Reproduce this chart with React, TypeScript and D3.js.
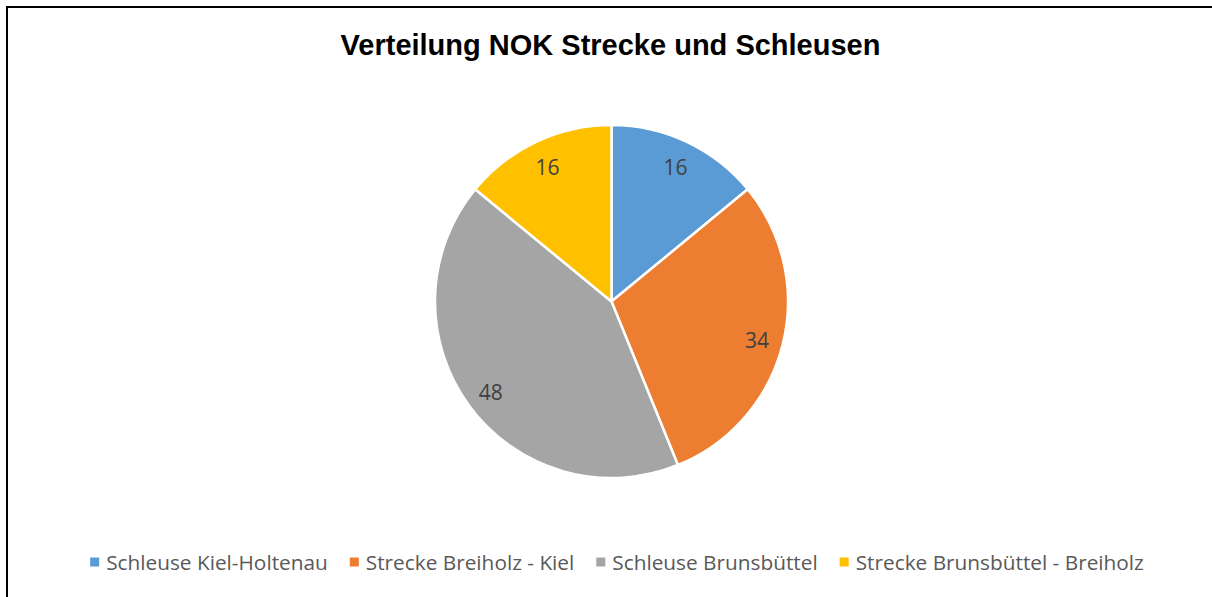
import React, { useMemo } from "react";
import * as d3 from "d3";

const categories = [
  "Schleuse Kiel-Holtenau",
  "Strecke Breiholz - Kiel",
  "Schleuse Brunsbüttel",
  "Strecke Brunsbüttel - Breiholz",
];
const values = [16, 34, 48, 16];
const colors = ["#5B9BD5", "#ED7D31", "#A5A5A5", "#FFC000"];
const title = "Verteilung NOK Strecke und Schleusen";

const W = 1212;
const H = 597;
const cx = 611.5;
const cy = 301.5;
const R = 176.5;
const labelR = 150;
const legendFontSize = 20.8;
const legendFont = `${legendFontSize}px 'Open Sans'`;
const legendY = 562;
const legendCenter = 617;

function measure(text: string, font: string): number {
  const c = document.createElement("canvas");
  const ctx = c.getContext("2d")!;
  ctx.font = font;
  return ctx.measureText(text).width;
}

export default function App() {
  const arcs = useMemo(
    () => d3.pie<number>().sort(null).value((d) => d)(values),
    []
  );
  const arcGen = d3.arc<d3.PieArcDatum<number>>().innerRadius(0).outerRadius(R);
  const labelArc = d3
    .arc<d3.PieArcDatum<number>>()
    .innerRadius(labelR)
    .outerRadius(labelR);

  const legend = useMemo(() => {
    const marker = 9;
    const gapMT = 7;
    const gapItems = 22;
    const widths = categories.map((c) => measure(c, legendFont));
    const itemW = widths.map((w) => marker + gapMT + w);
    const total = d3.sum(itemW) + gapItems * (categories.length - 1);
    let x = legendCenter - total / 2;
    return categories.map((c, i) => {
      const item = { x, text: c, color: colors[i] };
      x += itemW[i] + gapItems;
      return item;
    });
  }, []);

  return (
    <svg
      width={W}
      height={H}
      style={{ position: "absolute", left: 0, top: 0, background: "#fff" }}
    >
      <rect x={0} y={0} width={W} height={H} fill="#fff" />
      <rect
        x={7}
        y={7}
        width={W + 100}
        height={H + 100}
        fill="#fff"
        stroke="#000"
        strokeWidth={2}
      />
      <text
        x={cx - 1}
        y={55}
        textAnchor="middle"
        fontFamily="'Liberation Sans', Arial, sans-serif"
        fontWeight="bold"
        fontSize={29}
        fill="#000"
      >
        {title}
      </text>
      <g transform={`translate(${cx},${cy})`}>
        {arcs.map((a, i) => (
          <path
            key={i}
            d={arcGen(a) || ""}
            fill={colors[i]}
            stroke="#fff"
            strokeWidth={2.5}
            strokeLinejoin="round"
          />
        ))}
        {arcs.map((a, i) => {
          const [lx, ly] = labelArc.centroid(a);
          return (
            <text
              key={"l" + i}
              x={lx}
              y={ly}
              dy={1.5}
              textAnchor="middle"
              dominantBaseline="central"
              fontFamily="'Open Sans', sans-serif"
              fontSize={21}
              fill="#404040"
            >
              {values[i]}
            </text>
          );
        })}
      </g>
      {legend.map((l, i) => (
        <g key={"lg" + i}>
          <rect x={l.x} y={legendY - 4.5} width={9} height={9} fill={l.color} />
          <text
            x={l.x + 16}
            y={legendY}
            dominantBaseline="central"
            fontFamily="'Open Sans', sans-serif"
            fontSize={legendFontSize}
            fill="#595959"
          >
            {l.text}
          </text>
        </g>
      ))}
    </svg>
  );
}
